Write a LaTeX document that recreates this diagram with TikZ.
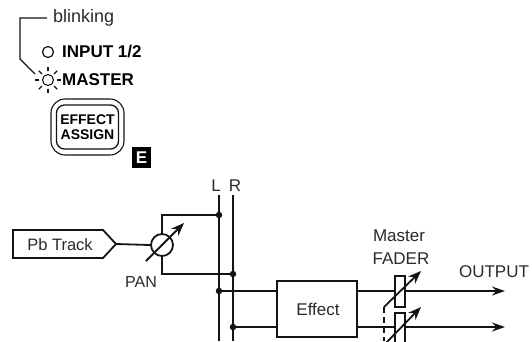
\documentclass[tikz,border=0pt]{standalone}
\usepackage{fontspec}
\setmainfont{Liberation Sans}
\usetikzlibrary{arrows.meta}
\definecolor{ink}{HTML}{141414}
\definecolor{txt}{HTML}{2A2A2A}
\tikzset{
  thin line/.style={draw=ink,line width=1.1pt},
  wire/.style={draw=ink,line width=1.8pt},
  dotn/.style={circle,fill=ink,inner sep=0pt,minimum size=6.5pt},
  lab/.style={inner sep=0pt,text=txt,font=\fontsize{17}{17}\selectfont},
  blab/.style={inner sep=0pt,text=black,font=\fontsize{17}{17}\selectfont\bfseries},
  sig/.style={wire,-{Stealth[length=13pt,width=9pt]}},
  ctrl/.style={wire,-{Stealth[length=13pt,width=10pt]}}
}
\begin{document}
\begin{tikzpicture}[x=1pt,y=-1pt]
\useasboundingbox (0,0) rectangle (532,341);
\clip (0,0) rectangle (532,341);
% top panel
\node[lab,anchor=west,font=\fontsize{18}{18}\selectfont] (blink) at (53,18) {blinking};
\node[circle,thin line,line width=1.2pt,minimum size=11pt,inner sep=0pt] (ledi) at (48,52) {};
\node[circle,thin line,minimum size=11pt,inner sep=0pt] (ledm) at (48,80) {};
\foreach \a in {0,45,...,315}{\draw[thin line] (ledm.\a) ++(\a:2.5pt) -- ++(\a:4.5pt);}
\node[blab,anchor=west] (inp) at (62,52) {INPUT 1/2};
\node[blab,anchor=west] (mas) at (62,80) {MASTER};
\coordinate (c1) at (20,18);
\coordinate (c2) at (20,59);
\coordinate (c3) at (35,74);
\draw[thin line] (blink.west) ++(-6,0) -- (c1) -- (c2) -- (c3);
\node[draw=ink,line width=1.1pt,rounded corners=14pt,minimum width=73pt,minimum height=56pt,inner sep=0pt] (bo) at (87.5,127) {};
\node[draw=ink,line width=1.3pt,rounded corners=8pt,minimum width=62pt,minimum height=44pt,inner sep=0pt,align=center,font=\fontsize{14}{15}\selectfont\bfseries] (bi) at (87.5,127) {EFFECT\\ASSIGN};
\node[fill=black,text=white,minimum width=19pt,minimum height=21pt,inner sep=0pt,font=\fontsize{17}{17}\selectfont\bfseries] (e) at (141.5,157.5) {E};
% bottom
\node[lab,anchor=center] (L) at (216,186) {L};
\node[lab,anchor=center] (R) at (235,186) {R};
\coordinate (lt) at (219,195); \coordinate (lb) at (219,341);
\coordinate (rt) at (233,195); \coordinate (rb) at (233,341);
\draw[wire,line width=1.6pt] (lt) -- (lb);
\draw[wire,line width=1.6pt] (rt) -- (rb);
\draw[wire] (13,230) -- (103,230) -- (116,244) -- (103,258) -- (13,258) -- cycle;
\coordinate (tip) at (116,244);
\node[lab,font=\fontsize{16.5}{17}\selectfont] (pb) at (60,245) {Pb Track};
\node[circle,wire,minimum size=22pt,inner sep=0pt] (pan) at (162,245) {};
\draw[wire] (tip) -- (pan.west);
\node[dotn] (d1) at (219,215) {};
\node[dotn] (d2) at (233,274) {};
\node[dotn] (d3) at (219,291) {};
\node[dotn] (d4) at (233,327) {};
\draw[wire] (pan.north) -- (162,215) -- (d1.center);
\draw[wire] (pan.south) -- (162,274) -- (d2.center);
\coordinate (pa) at (146,261); \coordinate (pb2) at (184,223);
\draw[ctrl] (pa) -- (pb2);
\node[lab,font=\fontsize{16}{16}\selectfont] (panl) at (141,282) {PAN};
\node[wire,minimum width=80pt,minimum height=56pt,inner sep=0pt] (fx) at (317,309) {};
\node[lab] (fxl) at (318,309) {Effect};
\node[wire,fill=white,minimum width=10pt,minimum height=31pt,inner sep=0pt] (f1) at (400,291.5) {};
\node[wire,fill=white,minimum width=10pt,minimum height=40pt,inner sep=0pt,anchor=north] (f2) at (400,312) {};
\coordinate (o1) at (505,291); \coordinate (o2) at (505,327);
\draw[wire] (d3.center) -- (fx.west |- d3);
\draw[wire] (d4.center) -- (fx.west |- d4);
\draw[wire] (fx.east |- d3) -- (f1.west |- d3);
\draw[wire] (fx.east |- d4) -- (f2.west |- d4);
\draw[sig] (f1.east |- d3) -- (o1);
\draw[sig] (f2.east |- d4) -- (o2);
\coordinate (a1) at (384,307); \coordinate (a2) at (421,271);
\coordinate (b1) at (384,345); \coordinate (b2) at (421,307);
\draw[ctrl] (a1) -- (a2);
\draw[ctrl] (b1) -- (b2);
\draw[wire,dash pattern=on 6pt off 4pt] (a1) -- (384,341);
\node[lab] (m1) at (399,236) {Master};
\node[lab] (m2) at (401,259) {FADER};
\node[lab] (out) at (494,272) {OUTPUT};
\end{tikzpicture}
\end{document}
